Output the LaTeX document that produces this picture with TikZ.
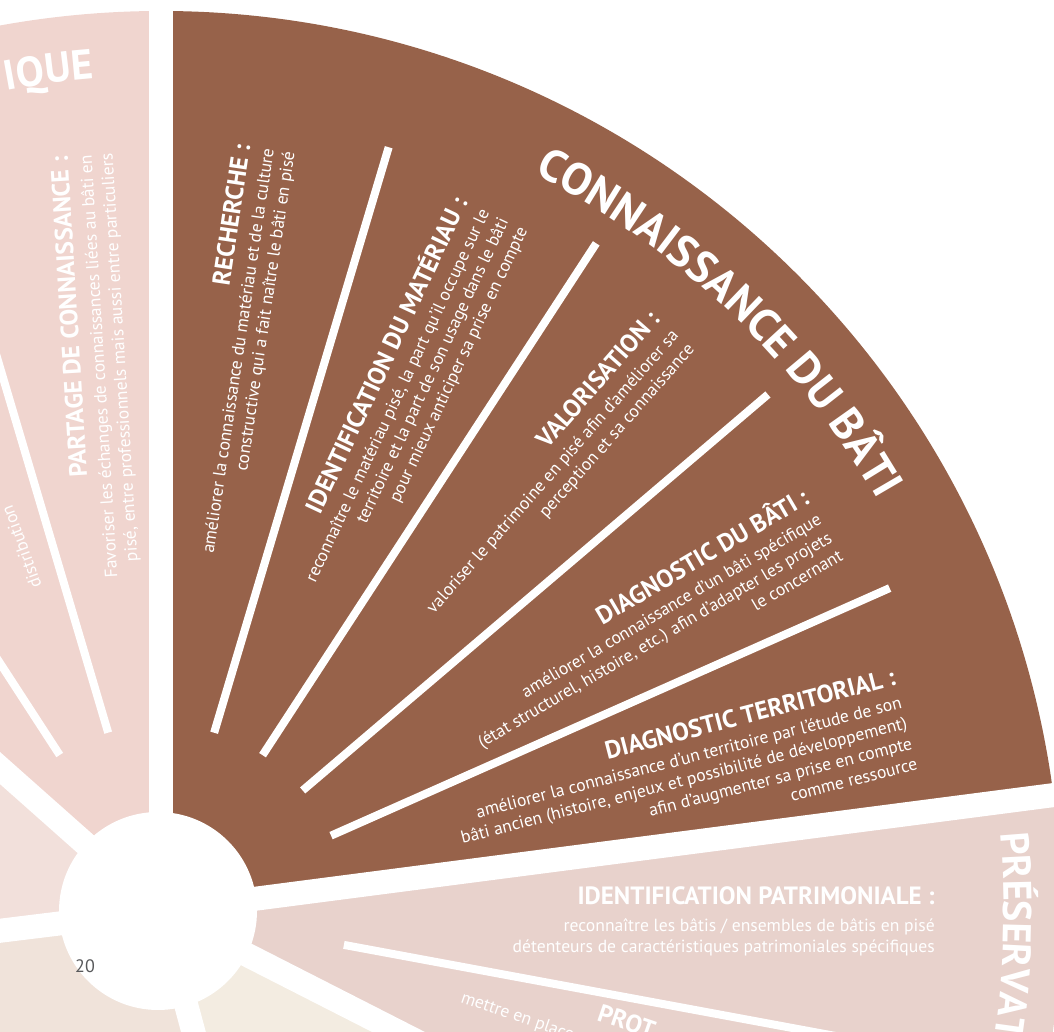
\documentclass[tikz,border=0pt]{standalone}
\usepackage{fontspec}
\setmainfont{PT Sans}
\usetikzlibrary{decorations.text}

\definecolor{brick}{HTML}{97624A}
\definecolor{rosehigh}{HTML}{F0D5CF}
\definecolor{roselow}{HTML}{F2E0DB}
\definecolor{sand}{HTML}{F0E3DA}
\definecolor{cream}{HTML}{F3ECE1}
\definecolor{rosepres}{HTML}{E8D2CC}
\definecolor{pagegray}{HTML}{58595B}

\newcommand{\hd}[1]{{\bfseries\fontsize{25}{25}\selectfont #1}}

\tikzset{
  gap/.style={line width=24pt,white},
  divider/.style={line width=8pt,white},
  block/.style={text=white,align=right,anchor=east,inner sep=0pt,
    font=\fontsize{17.6}{21}\selectfont},
  edgetext/.style={text=white,anchor=base west,inner sep=0pt,
    font=\fontsize{17.6}{21}\selectfont}
}

\begin{document}
\begin{tikzpicture}[x=1pt,y=1pt]
  \useasboundingbox (0,0) rectangle (1054,1032);
  \clip (0,0) rectangle (1054,1032);
  \coordinate (c) at (161,121);

  % sectors of the wheel
  \fill[brick] (c) -- ++(7.4:900) arc[start angle=7.4,end angle=90,radius=900] -- cycle;
  \fill[rosehigh] (c) -- ++(90:900) arc[start angle=90,end angle=138.4,radius=900] -- cycle;
  \fill[roselow] (c) -- ++(138.4:900) arc[start angle=138.4,end angle=187,radius=900] -- cycle;
  \fill[sand] (c) -- ++(187:900) arc[start angle=187,end angle=285,radius=900] -- cycle;
  \fill[cream] (c) -- ++(285:900) arc[start angle=285,end angle=333,radius=900] -- cycle;
  \fill[rosepres] (c) -- ++(-27:900) arc[start angle=-27,end angle=7.4,radius=900] -- cycle;

  \foreach \a in {7.4,90,138.4,187,285,333}
    \draw[gap] (c) -- ++(\a:1000);
  \fill[white] (158,121) circle[radius=99];

  % dividers inside the sectors
  \foreach \a in {23.9,40.4,56.9,73.4,106.5,123,-10.5}
    \draw[divider] (c) ++(\a:186) -- ++(\a:611);

  % titles on the rim
  \path[decorate,decoration={text along path,text align=center,
    text={|\bfseries\fontsize{45}{45}\selectfont\color{white}|CONNAISSANCE DU BÂTI}}]
    ([shift={(76:826)}]c) arc[start angle=76,end angle=17,radius=826];
  \path[decorate,decoration={text along path,text align=right,
    text={|\bfseries\fontsize{42}{42}\selectfont\color{white}|IQUE}}]
    ([shift={(114:835)}]c) arc[start angle=114,end angle=94.6,radius=835];
  \path[decorate,decoration={text along path,text align=left,
    text={|\bfseries\fontsize{40}{40}\selectfont\color{white}|PRÉSERVAT}}]
    ([shift={(5.3:843)}]c) arc[start angle=5.3,end angle=-30,radius=843];

  % text blocks
  \node[block,rotate=81.5] (recherche) at ([shift={(82.2:770)}]c)
    {\hd{RECHERCHE :}\\[3pt]améliorer la connaissance du matériau et de la culture\\
     constructive qui a fait naître le bâti en pisé};
  \node[block,rotate=64.8] (materiau) at ([shift={(64.8:772)}]c)
    {\hd{IDENTIFICATION DU MATÉRIAU :}\\[3pt]reconnaître le matériau pisé, la part qu’il occupe sur le\\
     territoire et la part de son usage dans le bâti\\pour mieux anticiper sa prise en compte};
  \node[block,rotate=48.6] (valorisation) at ([shift={(48.6:774)}]c)
    {\hd{VALORISATION :}\\[3pt]valoriser le patrimoine en pisé afin d’améliorer sa\\
     perception et sa connaissance};
  \node[block,rotate=30.5] (diagbati) at ([shift={(30.5:767)}]c)
    {\hd{DIAGNOSTIC DU BÂTI :}\\[3pt]améliorer la connaissance d’un bâti spécifique\\
     (état structurel, histoire, etc.) afin d’adapter les projets\\le concernant};
  \node[block,rotate=14.5] (diagterr) at ([shift={(14.5:769)}]c)
    {\hd{DIAGNOSTIC TERRITORIAL :}\\[3pt]améliorer la connaissance d’un territoire par l’étude de son\\
     bâti ancien (histoire, enjeux et possibilité de développement)\\
     afin d’augmenter sa prise en compte\\comme ressource};
  \node[block,rotate=93.5] (partage) at ([shift={(95.9:760)}]c)
    {\hd{PARTAGE DE CONNAISSANCE :}\\[3pt]Favoriser les échanges de connaissances liées au bâti en\\
     pisé, entre professionnels mais aussi entre particuliers};
  \node[block,rotate=0] (patrimoine) at ([shift={(-0.75:774)}]c)
    {\hd{IDENTIFICATION PATRIMONIALE :}\\[6pt]reconnaître les bâtis / ensembles de bâtis en pisé\\
     détenteurs de caractéristiques patrimoniales spécifiques};

  % cut-off texts at the edges
  \node[edgetext,rotate=110] (distribution) at (42,446) {distribution};
  \node[edgetext,rotate=-19] (mettre) at (460,30) {mettre en place};
  \node[edgetext,rotate=-19,font=\bfseries\fontsize{25}{25}\selectfont] (prot) at (596,12) {PROT};

  \node[text=pagegray,font=\fontsize{18}{18}\selectfont] (page) at (85,66) {20};
\end{tikzpicture}
\end{document}
